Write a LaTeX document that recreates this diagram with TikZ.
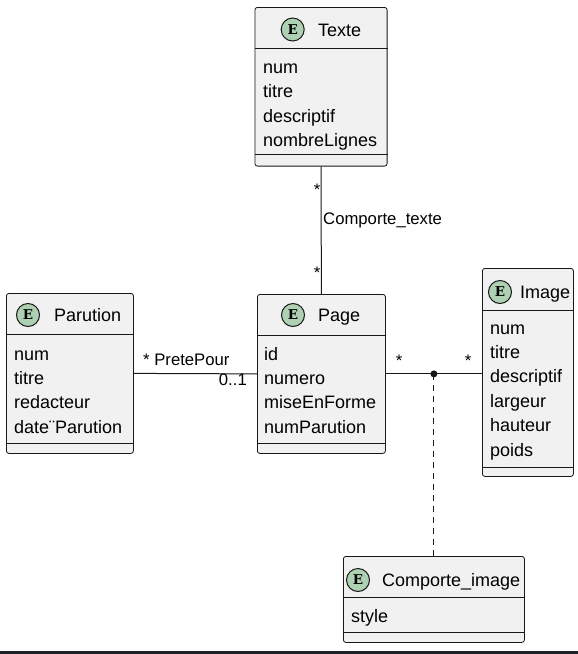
\documentclass[tikz,border=0pt]{standalone}
\usepackage{fontspec}
\newfontfamily\arialfont{Liberation Sans}
\newfontfamily\eglyph{DejaVu Serif}
\definecolor{lineC}{HTML}{181818}
\definecolor{boxC}{HTML}{F1F1F1}
\definecolor{eC}{HTML}{ADD1B2}
\definecolor{barC}{HTML}{1F2128}
\newcommand\attrfont{\arialfont\fontsize{18}{24}\selectfont}
\newcommand\lblfont{\arialfont\fontsize{16.7}{20}\selectfont}
\newcommand\stereofont{\eglyph\bfseries\fontsize{13.5}{13.5}\selectfont}
\tikzset{
  ebox/.style={draw=lineC, fill=boxC, rounded corners=2.5pt, line width=0.8pt,
               inner sep=0pt, anchor=north west},
  ecirc/.style={circle, draw=lineC, fill=eC, minimum size=23pt, inner sep=0pt,
                line width=1pt, font=\stereofont},
  etitle/.style={anchor=base west, inner sep=0pt, font=\attrfont},
  attr/.style={anchor=base west, inner sep=0pt, font=\attrfont},
  sepline/.style={draw=lineC, line width=0.8pt},
  conn/.style={draw=lineC, line width=1pt},
  lbl/.style={inner sep=0pt, font=\lblfont},
  assocdot/.style={circle, fill=lineC, minimum size=7pt, inner sep=0pt},
}
\begin{document}
\begin{tikzpicture}[x=1pt, y=-1pt]
\useasboundingbox (0,0) rectangle (578,654);

% ---- Texte ----
\node[ebox, minimum width=132.2pt, minimum height=158.7pt] (texte) at (254.5,7) {};
\draw[sepline] (texte.west |- 0,48) -- (texte.east |- 0,48);
\draw[sepline] (texte.west |- 0,154) -- (texte.east |- 0,154);
\node[ecirc] (texteE) at (292.7,29.5) {E};
\node[etitle] (texteT) at (318,36) {Texte};
\node[attr] (texteA1) at (263,73) {num};
\node[attr] (texteA2) at (263,97.5) {titre};
\node[attr] (texteA3) at (263,122) {descriptif};
\node[attr] (texteA4) at (263,146.5) {nombreLignes};

% ---- Parution ----
\node[ebox, minimum width=127pt, minimum height=160pt] (parution) at (6,293) {};
\draw[sepline] (parution.west |- 0,334) -- (parution.east |- 0,334);
\draw[sepline] (parution.west |- 0,443) -- (parution.east |- 0,443);
\node[ecirc] (parutionE) at (28,315) {E};
\node[etitle] (parutionT) at (54,321.5) {Parution};
\node[attr] (parutionA1) at (14,360) {num};
\node[attr] (parutionA2) at (14,384.4) {titre};
\node[attr] (parutionA3) at (14,408.8) {redacteur};
\node[attr] (parutionA4) at (14,433.2) {date¨Parution};

% ---- Page ----
\node[ebox, minimum width=128pt, minimum height=159pt] (page) at (257,294) {};
\draw[sepline] (page.west |- 0,335) -- (page.east |- 0,335);
\draw[sepline] (page.west |- 0,443) -- (page.east |- 0,443);
\node[ecirc] (pageE) at (293,315) {E};
\node[etitle] (pageT) at (318,321.5) {Page};
\node[attr] (pageA1) at (264,360) {id};
\node[attr] (pageA2) at (264,384.4) {numero};
\node[attr] (pageA3) at (264,408.8) {miseEnForme};
\node[attr] (pageA4) at (264,433.2) {numParution};

% ---- Image ----
\node[ebox, minimum width=91pt, minimum height=208pt] (image) at (482,268) {};
\draw[sepline] (image.west |- 0,310) -- (image.east |- 0,310);
\draw[sepline] (image.west |- 0,467) -- (image.east |- 0,467);
\node[ecirc] (imageE) at (500,292) {E};
\node[etitle] (imageT) at (520,298.5) {Image};
\node[attr] (imageA1) at (490,334) {num};
\node[attr] (imageA2) at (490,358.4) {titre};
\node[attr] (imageA3) at (490,382.8) {descriptif};
\node[attr] (imageA4) at (490,407.2) {largeur};
\node[attr] (imageA5) at (490,431.6) {hauteur};
\node[attr] (imageA6) at (490,456) {poids};

% ---- Comporte_image ----
\node[ebox, minimum width=181pt, minimum height=86pt] (cimage) at (343,556) {};
\draw[sepline] (cimage.west |- 0,597) -- (cimage.east |- 0,597);
\draw[sepline] (cimage.west |- 0,632) -- (cimage.east |- 0,632);
\node[ecirc] (cimageE) at (358,580) {E};
\node[etitle] (cimageT) at (382,586.5) {Comporte\_image};
\node[attr] (cimageA1) at (351,622) {style};

% ---- Associations ----
\draw[conn] (texte.south) -- (page.north);
\node[lbl, anchor=base] (ctStarA) at (317,195.5) {*};
\node[lbl, anchor=base] (ctStarB) at (317,278.5) {*};
\node[lbl, anchor=base west] (ctLabel) at (323,224) {Comporte\_texte};

\draw[conn] (parution.east) -- (page.west);
\node[lbl, anchor=base west] (ppLabel) at (143,365.5) {* PretePour};
\node[lbl, anchor=base east] (ppMult) at (247,385.5) {0..1};

\node[assocdot] (assoc) at (page.east -| cimage.north) {};
\draw[conn] (page.east) -- (assoc.center) -- (assoc.center -| image.west);
\node[lbl, anchor=base] (piStarA) at (399,366.5) {*};
\node[lbl, anchor=base] (piStarB) at (468,366.5) {*};
\draw[conn, dash pattern=on 6pt off 5pt] (assoc.center) -- (cimage.north);

% ---- bottom strip ----
\fill[barC] (0,651) rectangle (578,654);
\end{tikzpicture}
\end{document}
